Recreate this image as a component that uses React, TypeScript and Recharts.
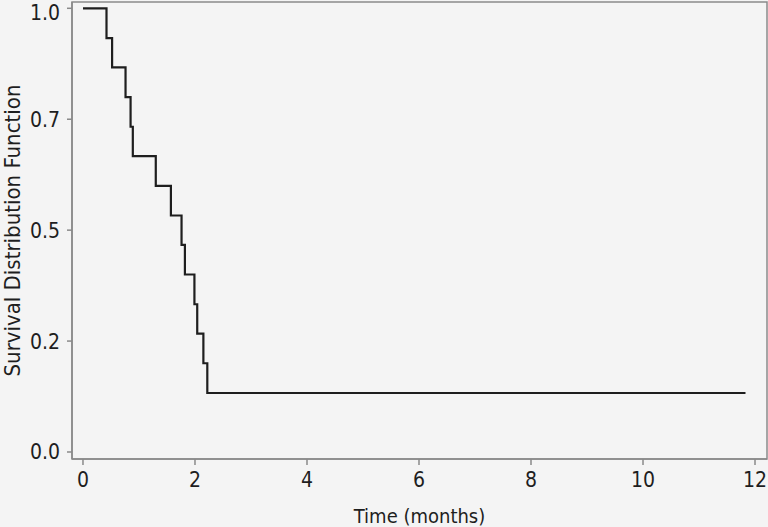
import React from "react";
import { LineChart, Line, XAxis, YAxis, ReferenceArea, Label } from "recharts";

// Kaplan-Meier estimate (time in months)
const times = [0, 0.42, 0.52, 0.76, 0.85, 0.89, 1.3, 1.57, 1.76, 1.82, 1.99, 2.04, 2.15, 2.22, 11.83];
const survival = [1.0, 0.933, 0.867, 0.8, 0.733, 0.667, 0.6, 0.533, 0.467, 0.4, 0.333, 0.267, 0.2, 0.133, 0.133];

const xTicks = [0, 2, 4, 6, 8, 10, 12];
const yTicks = [0, 0.25, 0.5, 0.75, 1];
const yTickLabels = ["0.0", "0.2", "0.5", "0.7", "1.0"];

const data = times.map((t, i) => ({ t, s: survival[i] }));

const X_DOMAIN: [number, number] = [-0.196, 12.214];
const Y_DOMAIN: [number, number] = [-0.0158, 1.0142];

const font = '"Liberation Sans Narrow", "DejaVu Sans Condensed", "Roboto", sans-serif';
const frame = "#8a8a8a";
const ink = "#1e1e1e";

export default function App() {
  return (
    <div style={{ position: "absolute", left: 0, top: 0, width: 768, height: 527, background: "#f4f4f4", fontFamily: font }}>
      <LineChart width={768} height={527} data={data} margin={{ top: 2, right: 1, bottom: 0, left: 0 }}>
        <XAxis
          dataKey="t"
          type="number"
          domain={X_DOMAIN}
          ticks={xTicks}
          allowDataOverflow
          height={68}
          axisLine={{ stroke: frame, strokeWidth: 1.5 }}
          tickLine={{ stroke: frame, strokeWidth: 1.5 }}
          tickSize={6}
          tickMargin={7}
          tick={{ fill: ink, fontSize: 21, fontFamily: font }}
        >
          <Label value="Time (months)" position="insideBottom" offset={4} style={{ fill: ink, fontSize: 20, fontFamily: font }} />
        </XAxis>
        <YAxis
          type="number"
          domain={Y_DOMAIN}
          ticks={yTicks}
          allowDataOverflow
          width={72}
          axisLine={{ stroke: frame, strokeWidth: 1.5 }}
          tickLine={{ stroke: frame, strokeWidth: 1.5 }}
          tickSize={5}
          tickMargin={7}
          tickFormatter={(v: number) => yTickLabels[yTicks.indexOf(v)] ?? String(v)}
          tick={{ fill: ink, fontSize: 21, fontFamily: font }}
        >
          <Label
            value="Survival Distribution Function"
            angle={-90}
            position="insideLeft"
            offset={12}
            style={{ fill: ink, fontSize: 22, fontFamily: font, textAnchor: "middle" }}
          />
        </YAxis>
        <ReferenceArea
          x1={X_DOMAIN[0]}
          x2={X_DOMAIN[1]}
          y1={Y_DOMAIN[0]}
          y2={Y_DOMAIN[1]}
          fill="none"
          stroke={frame}
          strokeWidth={1.5}
        />
        <Line
          type="stepAfter"
          dataKey="s"
          stroke={ink}
          strokeWidth={2.2}
          dot={false}
          isAnimationActive={false}
        />
      </LineChart>
    </div>
  );
}
